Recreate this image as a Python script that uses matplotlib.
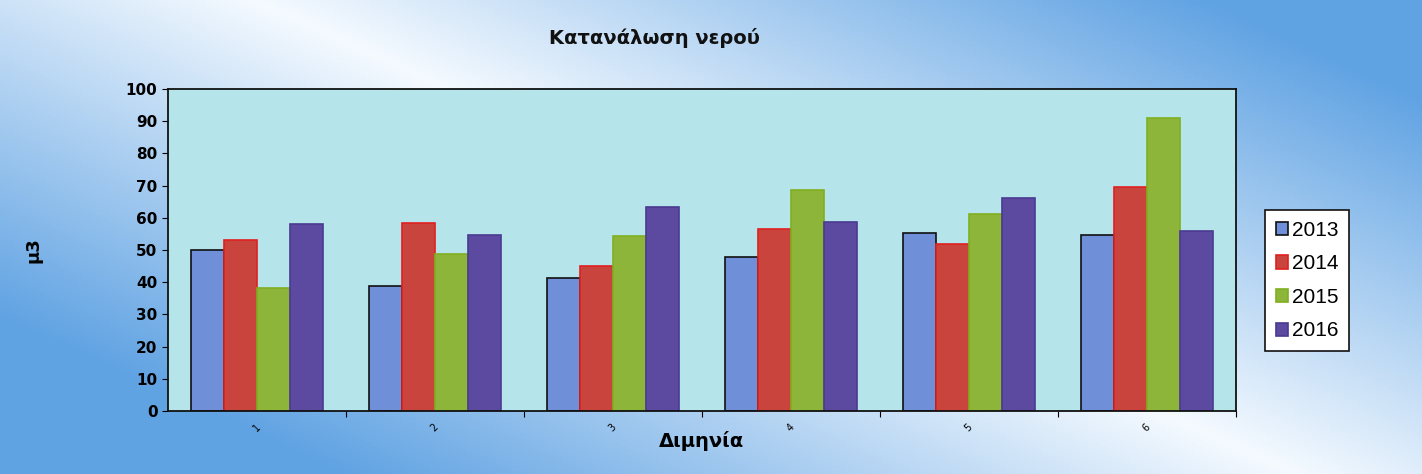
import numpy as np
import matplotlib.pyplot as plt

# δεδομένα (διαβασμένα από το γράφημα)
periods = ['1', '2', '3', '4', '5', '6']
years = ['2013', '2014', '2015', '2016']
v2013 = [50.0, 38.8, 41.3, 47.8, 55.2, 54.7]
v2014 = [53.2, 58.5, 45.1, 56.6, 52.0, 69.5]
v2015 = [38.2, 48.8, 54.4, 68.7, 61.1, 90.9]
v2016 = [58.1, 54.8, 63.3, 58.8, 66.3, 56.0]
series = [v2013, v2014, v2015, v2016]

face = ['#6f8fd8', '#c8443c', '#8db53a', '#5b4a9f']
edge = ['#101010', '#e02020', '#7fb020', '#4a3a90']

fig = plt.figure(figsize=(14.22, 4.74), dpi=100)

# φόντο: διαγώνια διαβάθμιση λευκό -> μπλε
bg = fig.add_axes([0, 0, 1, 1], zorder=-1)
xx, yy = np.meshgrid(np.linspace(0, 1, 400), np.linspace(0, 1, 150))
t = np.clip(np.abs(xx - 0.18 - 0.73 * yy) * 1.5, 0, 1)
blue = np.array([0.38, 0.64, 0.89])
white = np.array([0.96, 0.98, 1.0])
img = white[None, None, :] * (1 - t[..., None]) + blue[None, None, :] * t[..., None]
bg.imshow(img, aspect='auto', extent=[0, 1, 0, 1], origin='upper')
bg.axis('off')

ax = fig.add_axes([0.118, 0.133, 0.751, 0.679])
ax.set_facecolor('#b5e4ea')

x = np.arange(len(periods))
w = 0.185
for i, (vals, yr) in enumerate(zip(series, years)):
    ax.bar(x + (i - 1.5) * w, vals, width=w, color=face[i], edgecolor=edge[i],
           linewidth=1.2, label=yr)

ax.set_xlim(-0.5, 5.5)
ax.set_ylim(0, 100)
ax.set_yticks(range(0, 101, 10))
ax.set_xticks(x + 0.5)
ax.set_xticklabels([])
ax.set_xticks(x, minor=True)
ax.set_xticklabels(periods, minor=True, rotation=45, fontsize=7)
ax.tick_params(axis='x', which='minor', length=0, pad=8)
ax.tick_params(axis='x', which='major', length=4, direction='out')
ax.tick_params(axis='y', length=4, labelsize=11)
for lab in ax.get_yticklabels():
    lab.set_fontweight('bold')
for s in ax.spines.values():
    s.set_linewidth(1.3)
    s.set_color('#111111')

ax.set_xlabel('Διμηνία', fontsize=14, fontweight='bold', labelpad=-2)
ax.set_ylabel('μ3', fontsize=13, fontweight='bold', labelpad=60)
fig.text(0.46, 0.92, 'Κατανάλωση νερού', ha='center', va='center',
         fontsize=14, fontweight='bold', color='#111111')

leg = ax.legend(loc='center left', bbox_to_anchor=(1.018, 0.405),
                prop={'family': 'Liberation Sans', 'size': 15},
                frameon=True, fancybox=False, edgecolor='#111111', framealpha=1,
                facecolor='white',
                handlelength=0.6, handleheight=0.6, handletextpad=0.2,
                labelspacing=0.7, borderpad=0.5)
leg.get_frame().set_linewidth(1.2)

fig.savefig('out.png', dpi=100)
